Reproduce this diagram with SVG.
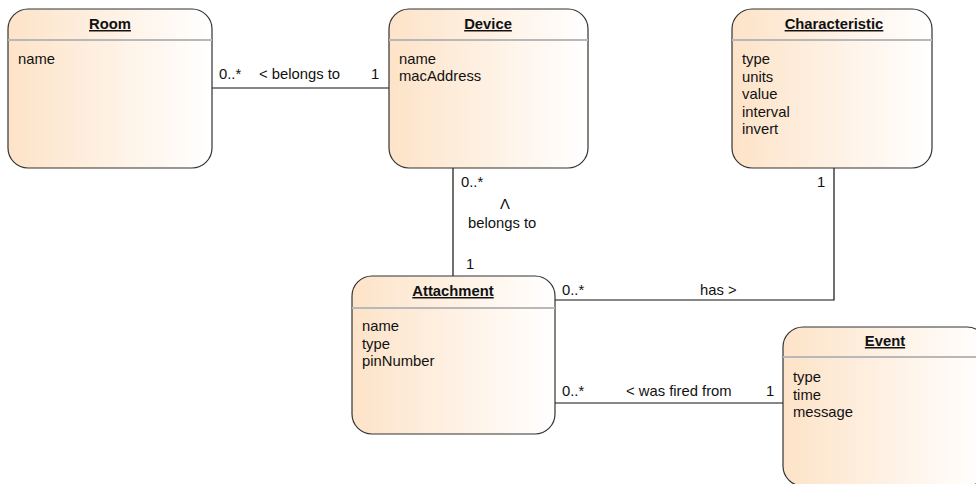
<svg xmlns="http://www.w3.org/2000/svg" width="976" height="484" viewBox="0 0 976 484">
<defs>
<linearGradient id="g" x1="0" y1="0" x2="1" y2="0">
<stop offset="0" stop-color="#fde3c8"/>
<stop offset="1" stop-color="#ffffff"/>
</linearGradient>
<style>
.box{fill:url(#g);stroke:#333;stroke-width:1.2}
.div{stroke:#b8b8b8;stroke-width:2}
text{font-family:"Liberation Sans",Arial,sans-serif;font-size:14.8px;fill:#111}
.t{font-weight:bold;text-anchor:middle;text-decoration:underline}
.c{fill:none;stroke:#111;stroke-width:1.2}
</style>
</defs>
<g id="connectors">
<path class="c" d="M212,88H389"/>
<path class="c" d="M453,168V276"/>
<path class="c" d="M834,168V300H555"/>
<path class="c" d="M555,403H783"/>
<text x="219" y="79">0..*</text>
<text x="259" y="79">&lt; belongs to</text>
<text x="371" y="79">1</text>
<text x="461" y="187">0..*</text>
<text x="500" y="209">Λ</text>
<text x="468" y="228">belongs to</text>
<text x="466" y="269">1</text>
<text x="817" y="187">1</text>
<text x="562" y="295">0..*</text>
<text x="700" y="295">has &gt;</text>
<text x="562" y="396">0..*</text>
<text x="626" y="396">&lt; was fired from</text>
<text x="766" y="396">1</text>
</g>
<g id="room">
<rect class="box" x="8" y="9" width="204" height="159" rx="20"/>
<line class="div" x1="8" y1="40" x2="212" y2="40"/>
<text class="t" x="110" y="29">Room</text>
<text x="18" y="64">name</text>
</g>
<g id="device">
<rect class="box" x="389" y="9" width="199" height="159" rx="20"/>
<line class="div" x1="389" y1="40" x2="588" y2="40"/>
<text class="t" x="488" y="29">Device</text>
<text x="399" y="64">name</text>
<text x="399" y="81">macAddress</text>
</g>
<g id="characteristic">
<rect class="box" x="732" y="9" width="200" height="159" rx="20"/>
<line class="div" x1="732" y1="40" x2="932" y2="40"/>
<text class="t" x="834" y="29">Characteristic</text>
<text x="742" y="64">type</text>
<text x="742" y="81.5">units</text>
<text x="742" y="99">value</text>
<text x="742" y="116.5">interval</text>
<text x="742" y="134">invert</text>
</g>
<g id="attachment">
<rect class="box" x="352" y="276" width="203" height="158" rx="20"/>
<line class="div" x1="352" y1="308" x2="555" y2="308"/>
<text class="t" x="453" y="296">Attachment</text>
<text x="362" y="331">name</text>
<text x="362" y="348.5">type</text>
<text x="362" y="366">pinNumber</text>
</g>
<g id="event">
<rect class="box" x="783" y="327" width="204" height="159" rx="20"/>
<line class="div" x1="783" y1="357" x2="987" y2="357"/>
<text class="t" x="885" y="346">Event</text>
<text x="793" y="382">type</text>
<text x="793" y="399.5">time</text>
<text x="793" y="417">message</text>
</g>
</svg>
